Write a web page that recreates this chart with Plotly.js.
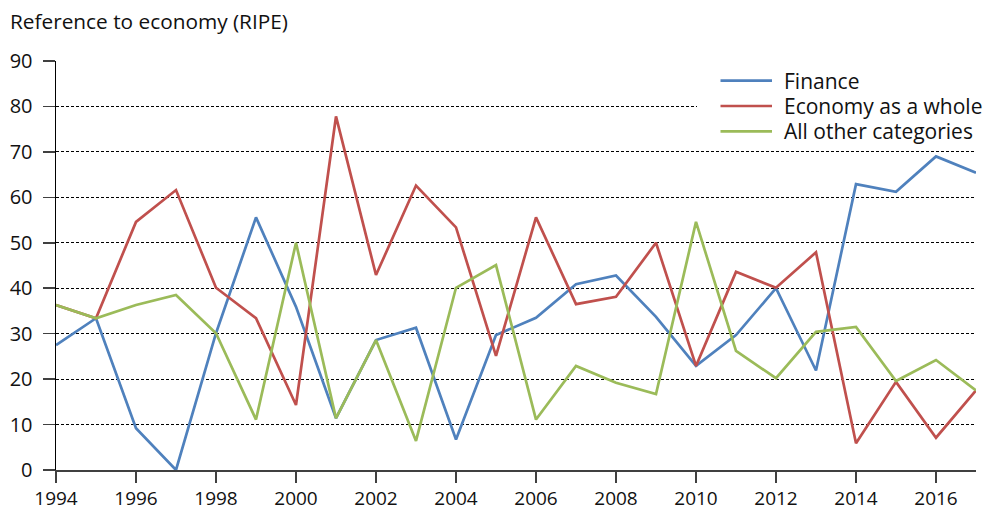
<!DOCTYPE html>
<html>
<head>
<meta charset="utf-8">
<script src="https://cdn.plot.ly/plotly-3.0.1.min.js"></script>
<style>html,body{margin:0;padding:0;background:#fff;}#chart{width:986px;height:511px;}</style>
</head>
<body>
<div id="chart"></div>
<script>
const years = [1994,1995,1996,1997,1998,1999,2000,2001,2002,2003,2004,2005,2006,2007,2008,2009,2010,2011,2012,2013,2014,2015,2016,2017];
const finance = [27.5,33.4,9.2,0,30.1,55.6,35.9,11.4,28.6,31.3,6.7,29.7,33.5,40.9,42.8,33.7,22.9,29.7,40.0,21.9,62.9,61.2,69.0,65.4];
const economy = [36.3,33.4,54.6,61.6,40.1,33.4,14.3,77.8,42.9,62.6,53.4,25.1,55.6,36.5,38.1,50.0,22.9,43.6,40.1,47.9,5.9,19.4,7.1,17.5];
const other = [36.3,33.4,36.3,38.5,30.1,11.1,50.0,11.4,28.6,6.4,40.1,45.1,11.1,22.9,19.2,16.7,54.6,26.2,20.2,30.4,31.5,19.6,24.2,17.5];
const seriesNames = ["Finance","Economy as a whole","All other categories"];
const colors = ["#4F81BD","#C0504D","#9BBB59"];

const font = "'Open Sans', 'Noto Sans', sans-serif";
const W = 986, H = 511;
const traces = [finance, economy, other].map((v,i)=>({
  x: years, y: v, type: 'scatter', mode: 'lines', name: seriesNames[i],
  line: {color: colors[i], width: 2.7}, showlegend: false
}));

// custom legend (container pixel positions -> paper fractions)
const px = x => x / W;
const py = y => 1 - y / H;
const legendRows = [80.7, 106, 131.3];
const shapes = [{
  type: 'rect', xref: 'paper', yref: 'paper', layer: 'above',
  x0: (697-56)/920, x1: 1, y0: 1-(146-61)/409, y1: 1 + 1/409,
  fillcolor: '#fff', line: {width: 0}
}];
const annotations = [];
seriesNames.forEach((n,i)=>{
  shapes.push({type: 'line', xref: 'paper', yref: 'paper', layer: 'above',
    x0: (720.5-56)/920, x1: (772-56)/920,
    y0: 1-(legendRows[i]-61)/409, y1: 1-(legendRows[i]-61)/409,
    line: {color: colors[i], width: 2.7}});
  annotations.push({text: n, xref: 'paper', yref: 'paper', showarrow: false,
    x: (783-56)/920, xanchor: 'left', y: 1-(legendRows[i]-61)/409, yanchor: 'middle',
    borderpad: 0,
    font: {family: font, size: 21, color: '#111'}});
});

const layout = {
  width: W, height: H,
  margin: {l: 56, r: 10, t: 61, b: 41},
  paper_bgcolor: '#fff', plot_bgcolor: '#fff',
  font: {family: font, size: 20, color: '#111'},
  title: {text: 'Reference to economy (RIPE)', x: px(10), xanchor: 'left', xref: 'container', y: py(22), yanchor: 'middle', yref: 'container', font: {family: font, size: 20.8, color: '#111'}},
  xaxis: {
    range: [1994, 2017], tick0: 1994, dtick: 2, tickmode: 'linear',
    showgrid: false, zeroline: false,
    showline: true, linecolor: '#404040', linewidth: 1.5,
    ticks: 'outside', ticklen: 11, tickwidth: 1.5, tickcolor: '#404040',
    ticklabelstandoff: 0,
    tickfont: {family: font, size: 19, color: '#111'}
  },
  yaxis: {
    range: [0, 90], dtick: 10, tick0: 0, tickmode: 'linear',
    showgrid: true, gridcolor: '#000', gridwidth: 1, griddash: '3px,2px',
    zeroline: false, showline: true, linecolor: '#000', linewidth: 1.5,
    ticks: 'outside', ticklen: 12, tickwidth: 1.5, tickcolor: '#404040',
    ticklabelstandoff: 6,
    tickfont: {family: font, size: 20, color: '#111'}
  },
  showlegend: false,
  shapes: shapes,
  annotations: annotations
};
Plotly.newPlot('chart', traces, layout, {displayModeBar: false, staticPlot: true});
</script>
</body>
</html>
